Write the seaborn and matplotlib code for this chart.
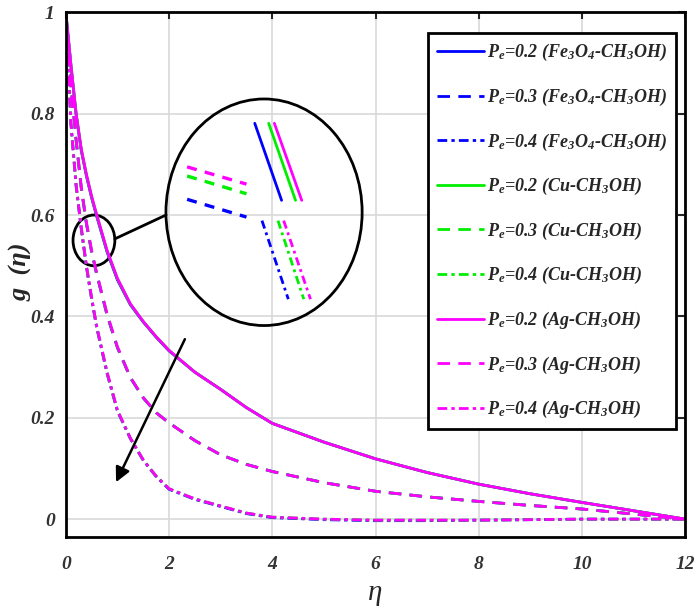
import numpy as np
import pandas as pd
import matplotlib
matplotlib.use("Agg")
import matplotlib.pyplot as plt
import seaborn as sns
from matplotlib.patches import Ellipse

# similarity variable
eta = [0, 0.1, 0.2, 0.3, 0.4, 0.5, 0.6, 0.8, 1.0, 1.25, 1.5, 1.75, 2.0,
       2.5, 3.0, 3.5, 4, 5, 6, 7, 8, 9, 10, 11, 12]

# Ag-CH3OH
g_ag_02 = [1.0, 0.895, 0.80, 0.73, 0.68, 0.637, 0.60, 0.53, 0.475, 0.425, 0.39, 0.36, 0.333,
           0.29, 0.256, 0.22, 0.189, 0.152, 0.119, 0.092, 0.069, 0.050, 0.033, 0.0165, 0.0]
g_ag_03 = [1.0, 0.855, 0.75, 0.655, 0.585, 0.53, 0.485, 0.405, 0.34, 0.28, 0.24, 0.21, 0.19,
           0.155, 0.127, 0.108, 0.094, 0.072, 0.055, 0.044, 0.035, 0.027, 0.020, 0.010, 0.0]
g_ag_04 = [1.0, 0.78, 0.66, 0.575, 0.50, 0.437, 0.38, 0.29, 0.215, 0.16, 0.117, 0.085, 0.06,
           0.04, 0.026, 0.012, 0.004, 0.0, -0.002, -0.002, -0.002, -0.001, 0.0, 0.0, 0.0]

# Cu-CH3OH
g_cu_02 = [1.0, 0.895, 0.80, 0.729, 0.679, 0.636, 0.599, 0.529, 0.474, 0.424, 0.39, 0.36, 0.333,
           0.29, 0.256, 0.22, 0.189, 0.152, 0.119, 0.092, 0.069, 0.050, 0.033, 0.0165, 0.0]
g_cu_03 = [1.0, 0.855, 0.749, 0.654, 0.584, 0.529, 0.484, 0.404, 0.339, 0.28, 0.24, 0.21, 0.19,
           0.155, 0.127, 0.108, 0.094, 0.072, 0.055, 0.044, 0.035, 0.027, 0.020, 0.010, 0.0]
g_cu_04 = [1.0, 0.78, 0.659, 0.574, 0.499, 0.436, 0.379, 0.289, 0.214, 0.16, 0.117, 0.085, 0.06,
           0.04, 0.026, 0.012, 0.004, 0.0, -0.002, -0.002, -0.002, -0.001, 0.0, 0.0, 0.0]

# Fe3O4-CH3OH
g_fe_02 = [1.0, 0.894, 0.798, 0.727, 0.677, 0.634, 0.597, 0.527, 0.472, 0.423, 0.389, 0.359, 0.332,
           0.29, 0.256, 0.22, 0.189, 0.152, 0.119, 0.092, 0.069, 0.050, 0.033, 0.0165, 0.0]
g_fe_03 = [1.0, 0.854, 0.747, 0.652, 0.582, 0.527, 0.482, 0.402, 0.338, 0.279, 0.239, 0.21, 0.19,
           0.155, 0.127, 0.108, 0.094, 0.072, 0.055, 0.044, 0.035, 0.027, 0.020, 0.010, 0.0]
g_fe_04 = [1.0, 0.779, 0.657, 0.572, 0.497, 0.434, 0.377, 0.287, 0.213, 0.159, 0.116, 0.084, 0.059,
           0.039, 0.025, 0.011, 0.003, -0.001, -0.003, -0.003, -0.002, -0.001, 0.0, 0.0, 0.0]

pe_values = ["0.2", "0.3", "0.4"]
fluids = ["Fe$_3$O$_4$-CH$_3$OH", "Cu-CH$_3$OH", "Ag-CH$_3$OH"]

# zoomed segments shown inside the big circle (eta, g)
inset_solid_x = {"b": [3.66, 4.18], "g": [3.93, 4.45], "m": [4.04, 4.57]}
inset_solid_y = {"b": [0.781, 0.629], "g": [0.781, 0.629], "m": [0.781, 0.629]}
inset_dash_x = {"b": [2.35, 3.50], "g": [2.35, 3.50], "m": [2.35, 3.50]}
inset_dash_y = {"b": [0.631, 0.596], "g": [0.677, 0.642], "m": [0.695, 0.661]}
inset_dd_x = {"b": [3.80, 4.31], "g": [4.11, 4.61], "m": [4.22, 4.74]}
inset_dd_y = {"b": [0.589, 0.434], "g": [0.589, 0.434], "m": [0.589, 0.434]}

sns.set_style("whitegrid")
plt.rcParams['font.family'] = ['Liberation Serif', 'DejaVu Serif']
plt.rcParams['mathtext.fontset'] = 'custom'
plt.rcParams['mathtext.rm'] = 'Liberation Serif:italic:bold'
plt.rcParams['mathtext.it'] = 'Liberation Serif:italic:bold'
plt.rcParams['mathtext.bf'] = 'Liberation Serif:italic:bold'

colors = {"b": "#0000ff", "g": "#00ee00", "m": "#ff00ff"}
styles = ["-", (0, (4.5, 3)), (0, (3.5, 1.5, 1.2, 1.5))]

fig = plt.figure(figsize=(7, 6.15), dpi=100)
ax = fig.add_axes([0.094, 0.127, 0.885, 0.853])

series = [("b", [g_fe_02, g_fe_03, g_fe_04], fluids[0]),
          ("g", [g_cu_02, g_cu_03, g_cu_04], fluids[1]),
          ("m", [g_ag_02, g_ag_03, g_ag_04], fluids[2])]

for key, curves, fluid in series:
    for pe, vals, ls in zip(pe_values, curves, styles):
        df = pd.DataFrame({"eta": eta, "g": vals})
        sns.lineplot(data=df, x="eta", y="g", ax=ax, color=colors[key], linestyle=ls,
                     lw=2.0, estimator=None, sort=False,
                     label=f"$P_e$=" + pe + " (" + fluid + ")")

handles, labels = ax.get_legend_handles_labels()

# circles and arrow
ax.add_patch(Ellipse((0.545, 0.55), 0.81, 0.10, fill=False, ec="k", lw=2))
ax.add_patch(Ellipse((3.84, 0.6055), 3.8, 0.447, fill=False, ec="k", lw=2))
ax.plot([0.95, 1.94], [0.553, 0.600], color="k", lw=2)
ax.annotate("", xy=(0.95, 0.068), xytext=(2.33, 0.36),
            arrowprops=dict(arrowstyle="-|>", color="k", lw=1.8, mutation_scale=22))

for key in ["b", "g", "m"]:
    sns.lineplot(x=inset_solid_x[key], y=inset_solid_y[key], ax=ax, color=colors[key],
                 lw=2, linestyle="-", legend=False)
    sns.lineplot(x=inset_dash_x[key], y=inset_dash_y[key], ax=ax, color=colors[key],
                 lw=2.4, linestyle=(0, (3, 2.5)), legend=False)
    sns.lineplot(x=inset_dd_x[key], y=inset_dd_y[key], ax=ax, color=colors[key],
                 lw=2, linestyle=(0, (3, 1.5, 1, 1.5)), legend=False)

ax.set_xlim(0, 12)
ax.set_ylim(-0.035, 1)
ax.set_xticks([0, 2, 4, 6, 8, 10, 12])
ax.set_yticks([0, 0.2, 0.4, 0.6, 0.8, 1])
ax.set_xticklabels(["0", "2", "4", "6", "8", "10", "12"])
ax.set_yticklabels(["0", "0.2", "0.4", "0.6", "0.8", "1"])
ax.grid(True, color="#d9d9d9", lw=1.2)
ax.tick_params(direction="in", length=5, width=1.5, top=True, right=True,
               labelsize=14, labelcolor="#333333", pad=8)
for lab in ax.get_xticklabels() + ax.get_yticklabels():
    lab.set_fontstyle("italic")
    lab.set_fontweight("bold")
ax.tick_params(axis="x", pad=14)
for sp in ax.spines.values():
    sp.set_color("k")
    sp.set_linewidth(2)

ax.set_xlabel("η", fontsize=21, fontstyle="italic")
ax.xaxis.set_label_coords(0.5, -0.083)
ax.set_ylabel("g  (η)", fontsize=19, fontstyle="italic", fontweight="bold")
ax.yaxis.set_label_coords(-0.053, 0.505)

leg = ax.legend(handles, labels, loc="upper right", bbox_to_anchor=(0.985, 0.96),
                prop=dict(family="Liberation Serif", style="italic", weight="bold", size=13),
                frameon=True, fancybox=False, edgecolor="k", framealpha=1,
                handlelength=2.6, handletextpad=0.15, labelspacing=1.3, borderpad=0.5,
                borderaxespad=0)
leg.get_frame().set_linewidth(2)

plt.savefig("out.png", dpi=100)
plt.close()
